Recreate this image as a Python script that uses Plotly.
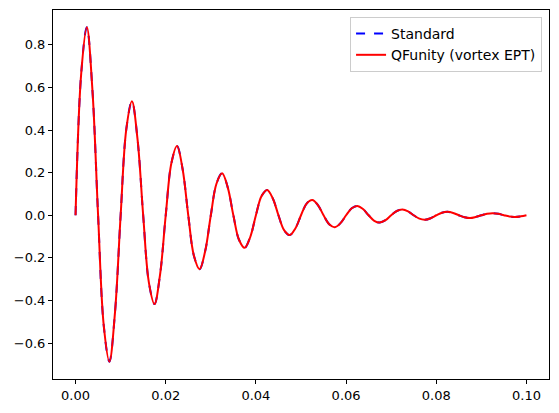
import plotly.graph_objects as go

# time samples (s)
t = [k * 0.00125 for k in range(81)]

# signal values (both series coincide)
standard = [
    0.0, 0.664, 0.883, 0.586, 0.0, -0.517, -0.687, -0.456,
    0.0, 0.403, 0.535, 0.356, 0.0, -0.314, -0.417, -0.277,
    0.0, 0.244, 0.325, 0.216, 0.0, -0.190, -0.253, -0.168,
    0.0, 0.148, 0.197, 0.131, 0.0, -0.115, -0.153, -0.102,
    0.0, 0.090, 0.119, 0.079, 0.0, -0.070, -0.093, -0.062,
    0.0, 0.055, 0.072, 0.048, 0.0, -0.042, -0.056, -0.037,
    0.0, 0.033, 0.044, 0.029, 0.0, -0.026, -0.034, -0.023,
    0.0, 0.020, 0.027, 0.018, 0.0, -0.016, -0.021, -0.014,
    0.0, 0.012, 0.016, 0.011, 0.0, -0.009, -0.013, -0.008,
    0.0, 0.007, 0.010, 0.007, 0.0, -0.006, -0.008, -0.005,
    0.0,
]
qfunity = list(standard)

x_ticks = [0.0, 0.02, 0.04, 0.06, 0.08, 0.10]
y_ticks = [-0.6, -0.4, -0.2, 0.0, 0.2, 0.4, 0.6, 0.8]

fig = go.Figure()
fig.add_trace(go.Scatter(
    x=t, y=standard, mode="lines", name="Standard",
    line=dict(color="blue", width=2, dash="dash", shape="spline", smoothing=1.0),
))
fig.add_trace(go.Scatter(
    x=t, y=qfunity, mode="lines", name="QFunity (vortex EPT)",
    line=dict(color="red", width=2, shape="spline", smoothing=1.0),
))

axis_common = dict(
    showgrid=False, zeroline=False, showline=True, linecolor="black",
    linewidth=1, mirror=True, ticks="outside", ticklen=4, tickwidth=1,
    tickcolor="black", tickfont=dict(family="DejaVu Sans", size=13, color="black"),
)

fig.update_layout(
    width=559, height=413,
    margin=dict(l=53, r=10, t=10, b=34),
    paper_bgcolor="white", plot_bgcolor="white",
    font=dict(family="DejaVu Sans", size=13, color="black"),
    xaxis=dict(range=[-0.005, 0.105], tickvals=x_ticks, tickformat=".2f", **axis_common),
    yaxis=dict(range=[-0.7685, 0.9635], tickvals=y_ticks, tickformat=".1f", **axis_common),
    legend=dict(
        x=0.986, y=0.981, xanchor="right", yanchor="top",
        bordercolor="#cccccc", borderwidth=1, bgcolor="rgba(255,255,255,0.8)",
        font=dict(family="DejaVu Sans", size=14), tracegroupgap=0, itemwidth=30,
    ),
    showlegend=True,
)

fig.write_html(
    "out.html",
    config={"displayModeBar": False},
    post_script="document.body.style.margin='0';",
)
